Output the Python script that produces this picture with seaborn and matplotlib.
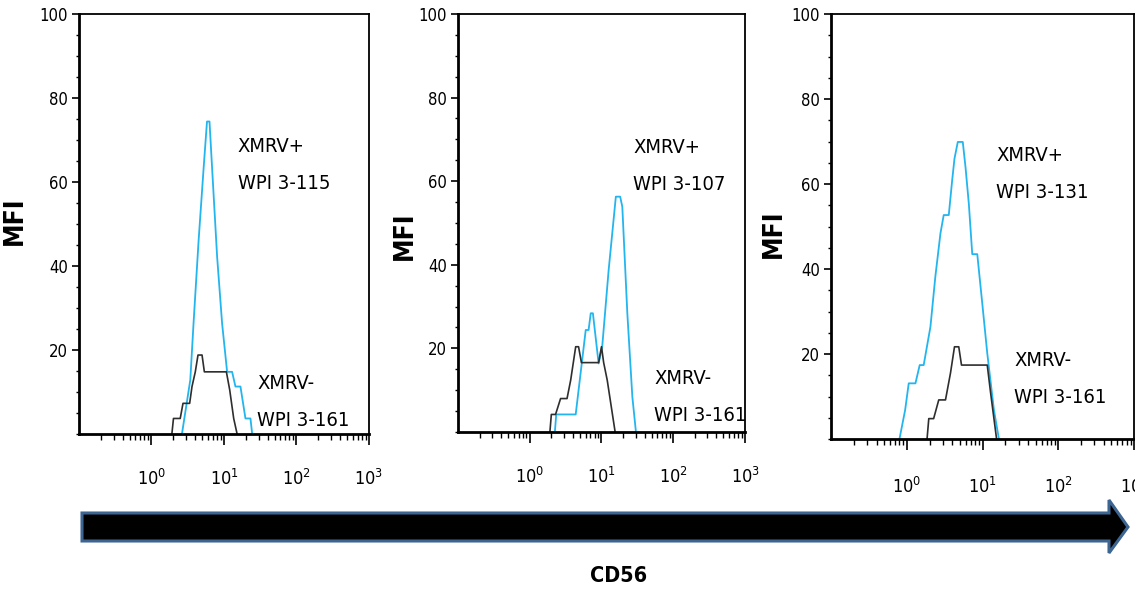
import matplotlib
matplotlib.use("Agg")
import matplotlib.pyplot as plt
import matplotlib.patches as mpatches
from matplotlib.ticker import LogLocator, MultipleLocator, NullFormatter
import numpy as np
import seaborn as sns

# values (CD56 intensity, MFI)
p1_pos_x = [2.63, 3.43, 3.80, 4.47, 5.25, 5.83, 6.31, 6.84, 8.04, 9.42, 11.04, 12.94, 14.39, 16.87, 19.77, 23.17, 24.49]
p1_pos_y = [0, 12.9, 26.3, 46.2, 63.6, 74.4, 74.4, 63.6, 42.2, 26.3, 14.8, 14.8, 11.3, 11.3, 3.7, 3.7, 0]
p1_neg_x = [1.91, 2.01, 2.49, 2.72, 3.36, 3.62, 4.02, 4.38, 4.98, 5.36, 10.79, 11.99, 13.61, 15.17]
p1_neg_y = [0, 3.7, 3.7, 7.3, 7.3, 11.3, 14.8, 18.8, 18.8, 14.8, 14.8, 10.5, 3.7, 0]

p2_pos_x = [2.24, 2.34, 4.37, 6.03, 6.61, 7.08, 7.59, 9.12, 10.23, 12.59, 15.85, 18.20, 19.50, 22.91, 26.92, 30.20]
p2_pos_y = [0, 4.2, 4.2, 24.4, 24.4, 28.4, 28.4, 16.4, 20.4, 38.8, 56.3, 56.3, 53.9, 28.4, 8.4, 0]
p2_neg_x = [1.91, 2.00, 2.29, 2.69, 3.31, 3.72, 4.37, 4.79, 5.25, 9.12, 10.0, 10.72, 12.02, 15.49]
p2_neg_y = [0, 4.2, 4.2, 8, 8, 12.4, 20.4, 20.4, 16.6, 16.6, 20.4, 16.6, 12.4, 0]

p3_pos_x = [0.80, 0.95, 1.06, 1.30, 1.48, 1.67, 2.05, 2.38, 2.78, 3.07, 3.58, 3.97, 4.26, 4.71,
            5.48, 5.96, 6.59, 7.31, 8.51, 9.91, 11.53, 14.13, 16.44]
p3_pos_y = [0, 6.8, 13.1, 13.1, 17.4, 17.4, 26.4, 38.2, 48.4, 52.7, 52.7, 60.9, 66, 69.9,
            69.9, 63.9, 55.3, 43.5, 43.5, 31.9, 20.2, 6.8, 0]
p3_neg_x = [1.85, 1.95, 2.26, 2.64, 3.24, 3.77, 4.26, 4.85, 5.27, 11.53, 12.76, 14.13, 15.31]
p3_neg_y = [0, 4.8, 4.8, 9.2, 9.2, 15.5, 21.7, 21.7, 17.4, 17.4, 10.9, 4.8, 0]

pos_labels = ['XMRV+\nWPI 3-115', 'XMRV+\nWPI 3-107', 'XMRV+\nWPI 3-131']
neg_label = 'XMRV-\nWPI 3-161'
x_ticks = [1, 10, 100, 1000]
x_ticklabels = [r'$10^{0}$', r'$10^{1}$', r'$10^{2}$', r'$10^{3}$']
y_ticks = [20, 40, 60, 80, 100]

sns.set_style('ticks')
plt.rcParams['font.family'] = ['DejaVu Sans']
plt.rcParams['font.stretch'] = 'condensed'
plt.rcParams['text.color'] = 'black'
plt.rcParams['axes.labelcolor'] = 'black'
plt.rcParams['xtick.color'] = 'black'
plt.rcParams['ytick.color'] = 'black'

CYAN = '#22b5ee'
DARK = '#2e2e2e'

fig = plt.figure(figsize=(11.35, 5.9), dpi=100)

# panel boxes in figure fraction, plus text placement (axes fraction)
panels = [
    dict(rect=[0.0696, 0.2644, 0.2555, 0.7119], pos=(p1_pos_x, p1_pos_y), neg=(p1_neg_x, p1_neg_y),
         pos_txt=(0.548, 0.64), neg_txt=(0.614, 0.076), ylab=(-0.176, 0.507), xpad=17),
    dict(rect=[0.4035, 0.2678, 0.2529, 0.7085], pos=(p2_pos_x, p2_pos_y), neg=(p2_neg_x, p2_neg_y),
         pos_txt=(0.611, 0.636), neg_txt=(0.683, 0.084), ylab=(-0.139, 0.469), xpad=17),
    dict(rect=[0.7322, 0.2559, 0.2670, 0.7203], pos=(p3_pos_x, p3_pos_y), neg=(p3_neg_x, p3_neg_y),
         pos_txt=(0.545, 0.623), neg_txt=(0.604, 0.141), ylab=(-0.145, 0.482), xpad=19),
]

for i, p in enumerate(panels):
    ax = fig.add_axes(p['rect'])
    ax.set_xscale('log')
    sns.lineplot(x=p['pos'][0], y=p['pos'][1], ax=ax, sort=False, estimator=None, color=CYAN, lw=1.3)
    sns.lineplot(x=p['neg'][0], y=p['neg'][1], ax=ax, sort=False, estimator=None, color=DARK, lw=1.2)
    ax.set_xlim(0.1, 1000)
    ax.set_ylim(0, 100)

    ax.set_xticks(x_ticks)
    ax.set_xticklabels(x_ticklabels)
    ax.xaxis.set_minor_locator(LogLocator(base=10, subs=np.arange(2, 10)))
    ax.xaxis.set_minor_formatter(NullFormatter())
    ax.set_yticks(y_ticks)
    ax.yaxis.set_minor_locator(MultipleLocator(5))

    ax.tick_params(axis='x', which='major', direction='out', length=8, width=1.2,
                   labelsize=13, pad=p['xpad'])
    ax.tick_params(axis='x', which='minor', direction='out', length=4.5, width=1.0)
    ax.tick_params(axis='y', which='major', direction='out', length=5, width=1.2,
                   labelsize=12, pad=3)
    ax.tick_params(axis='y', which='minor', direction='out', length=2.5, width=1.0)

    for side in ['left', 'bottom']:
        ax.spines[side].set_linewidth(2.0)
    for side in ['top', 'right']:
        ax.spines[side].set_linewidth(1.3)
    for s in ax.spines.values():
        s.set_color('black')

    ax.set_xlabel('')
    ax.set_ylabel('MFI', fontsize=19, fontweight='bold')
    ax.yaxis.set_label_coords(*p['ylab'])

    ax.text(p['pos_txt'][0], p['pos_txt'][1], pos_labels[i], transform=ax.transAxes,
            ha='left', va='center', fontsize=14.5, linespacing=2.2)
    ax.text(p['neg_txt'][0], p['neg_txt'][1], neg_label, transform=ax.transAxes,
            ha='left', va='center', fontsize=14.5, linespacing=2.2)

# CD56 arrow along the bottom
W, H = 1135.0, 590.0
arrow_px = [(82, 513), (1109, 513), (1109, 500), (1128, 527), (1109, 553), (1109, 541), (82, 541)]
arrow = mpatches.Polygon([(x / W, 1 - y / H) for x, y in arrow_px], closed=True,
                         transform=fig.transFigure, facecolor='black', edgecolor='#3d6592', lw=2.2)
fig.patches.append(arrow)
fig.text(619 / W, 1 - 576 / H, 'CD56', ha='center', va='center', fontsize=15.5, fontweight='bold')

fig.savefig('out.png', dpi=100)
